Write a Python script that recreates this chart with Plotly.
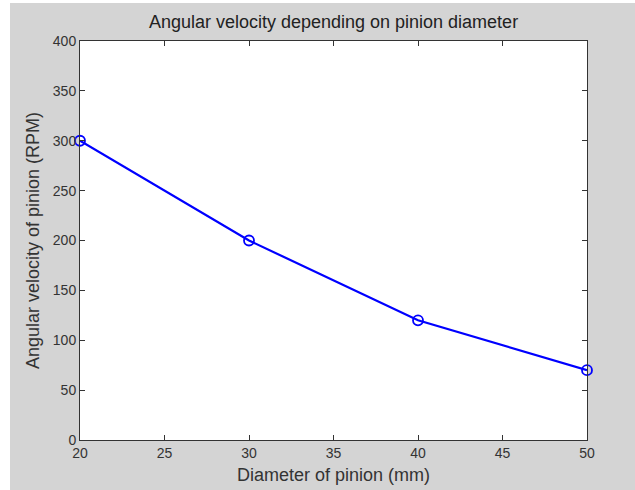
import plotly.graph_objects as go

diameter_mm = [20, 30, 40, 50]
velocity_rpm = [300, 200, 120, 70]
x_ticks = [20, 25, 30, 35, 40, 45, 50]
y_ticks = [0, 50, 100, 150, 200, 250, 300, 350, 400]

fig = go.Figure()
fig.add_trace(go.Scatter(
    x=diameter_mm, y=velocity_rpm, mode="lines+markers", cliponaxis=False,
    line=dict(color="#0000ff", width=2.2),
    marker=dict(symbol="circle-open", size=10, color="#0000ff", line=dict(width=1.8)),
    showlegend=False,
))

axis_common = dict(
    showline=True, linecolor="#333333", linewidth=1, mirror="ticks",
    ticks="inside", ticklen=5, tickcolor="#333333", showgrid=False, zeroline=False,
    tickfont=dict(size=14, color="#333333"), automargin=False,
)
fig.update_xaxes(range=[20, 50], tickvals=x_ticks, **axis_common,
                 title=dict(text="Diameter of pinion (mm)", font=dict(size=18, color="#333333"), standoff=8))
fig.update_yaxes(range=[0, 400], tickvals=y_ticks, **axis_common,
                 title=dict(text="Angular velocity of pinion (RPM)", font=dict(size=18, color="#333333"), standoff=8))

fig.update_layout(
    width=625, height=487,
    title=dict(text="Angular velocity depending on pinion diameter", x=0.5, xanchor="center",
               xref="paper", y=0.962, yanchor="middle", font=dict(size=18, color="#222222")),
    font=dict(family="Liberation Sans, Arial, sans-serif"),
    paper_bgcolor="#d4d4d4", plot_bgcolor="white",
    margin=dict(l=70, r=48, t=38, b=50),
)
# the screenshot has a thin white border at the top and the left
fig.write_html("out.html", post_script="document.body.style.margin='3px 0 0 10px';")
